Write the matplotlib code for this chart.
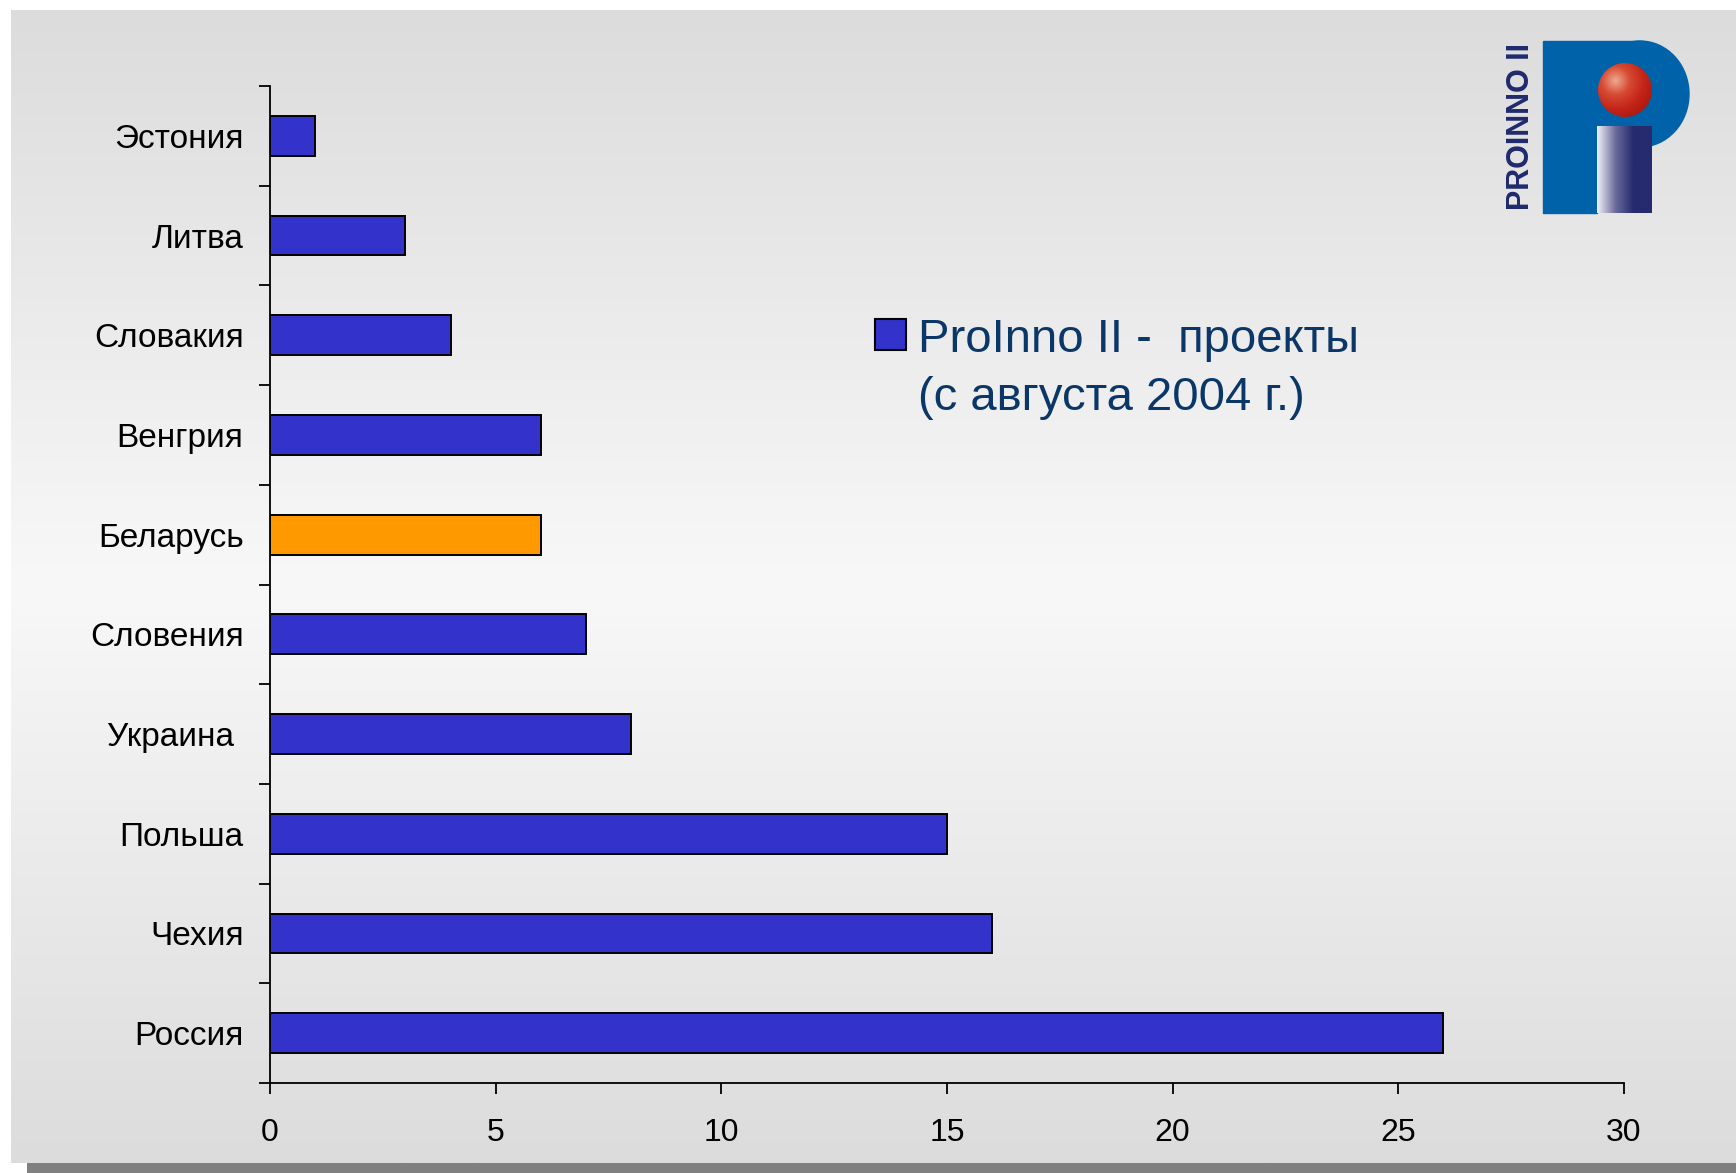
import numpy as np
import matplotlib
matplotlib.use("Agg")
import matplotlib.pyplot as plt
import matplotlib.patches as mpatches
from matplotlib.colors import LinearSegmentedColormap

plt.rcParams["font.family"] = ["Liberation Sans", "DejaVu Sans"]

# ── data ─────────────────────────────────────────────────────────────
countries = ["Россия", "Чехия", "Польша", "Украина ", "Словения",
             "Беларусь", "Венгрия", "Словакия", "Литва", "Эстония"]
projects = [26, 16, 15, 8, 7, 6, 6, 4, 3, 1]
highlight = "Беларусь"
legend_lines = ["ProInno II -  проекты", "(с августа 2004 г.)"]
xticks = [0, 5, 10, 15, 20, 25, 30]

W, H = 1736, 1173
fig = plt.figure(figsize=(W / 100, H / 100), dpi=100)
fig.patch.set_facecolor("white")

def px_axes(x0, y0, x1, y1, **kw):
    # axes placed by pixel box (top-left origin)
    return fig.add_axes([x0 / W, 1 - y1 / H, (x1 - x0) / W, (y1 - y0) / H], **kw)

# ── background panel with shadow + vertical gradient ───────────────
sh = px_axes(27, 1163, W, H)
sh.set_axis_off()
sh.add_patch(mpatches.Rectangle((0, 0), 1, 1, color="#808080", transform=sh.transAxes))

bg = px_axes(11, 10, W, 1163)
bg.set_axis_off()
t = np.linspace(0, 1, 400)
shade = 1 - np.abs(t - 0.5) * 2          # 0 at edges, 1 in middle
grad = np.tile(shade[:, None], (1, 2))
gcm = LinearSegmentedColormap.from_list("g", ["#dcdcdc", "#f8f8f8"])
bg.imshow(grad, aspect="auto", cmap=gcm, extent=[0, 1, 1, 0])
bg.set_xlim(0, 1)
bg.set_ylim(1, 0)

# ── main chart ──────────────────────────────────────────────────────
ax = px_axes(270, 86, 1624, 1083)
ax.patch.set_alpha(0)
y = np.arange(len(countries))
colors = ["#ff9900" if c == highlight else "#3333cc" for c in countries]
ax.barh(y, projects, height=0.4, color=colors, edgecolor="black", linewidth=1.4, zorder=3)

ax.set_xlim(0, 30)
ax.set_ylim(-0.5, len(countries) - 0.5)
ax.set_xticks(xticks)
ax.set_xticklabels([str(v) for v in xticks], fontsize=23)
ax.set_yticks(y)
ax.set_yticklabels(countries, fontsize=24)
ax.set_yticks(np.arange(-0.5, len(countries), 1), minor=True)
ax.tick_params(axis="y", which="major", length=0, pad=19)
ax.tick_params(axis="y", which="minor", length=8, width=1.3, direction="out")
ax.tick_params(axis="x", length=8, width=1.3, direction="out", pad=17)
for s in ["top", "right"]:
    ax.spines[s].set_visible(False)
for s in ["left", "bottom"]:
    ax.spines[s].set_linewidth(1.3)

# legend entry
fig.add_artist(mpatches.Rectangle((875 / W, 1 - 350 / H), 31 / W, 31 / H,
                                  facecolor="#3333cc", edgecolor="black",
                                  linewidth=1.5, transform=fig.transFigure))
for i, line in enumerate(legend_lines):
    fig.text(918 / W, 1 - (352 + 58 * i) / H, line, fontsize=34, color="#0b3768",
             ha="left", va="baseline")

# ── ProInno logo ────────────────────────────────────────────────────
lg = px_axes(1500, 30, 1710, 225)
lg.set_xlim(1500, 1710)
lg.set_ylim(225, 30)
lg.set_axis_off()
blue = "#0062a8"
lg.add_patch(mpatches.Rectangle((1543, 41), 54, 172, color=blue))
lg.add_patch(mpatches.Rectangle((1597, 41), 45, 106, color=blue))
lg.add_patch(mpatches.Ellipse((1640, 94), 98, 106, color=blue))
# i stem with gradient
stem = np.tile(np.linspace(0, 1, 100)[None, :], (2, 1))
scm = LinearSegmentedColormap.from_list("s", ["#f0f0f4", "#6a6c9c", "#262a6e", "#262a6e"])
lg.imshow(stem, cmap=scm, aspect="auto", extent=[1597, 1652, 213, 126], zorder=3)
# red sphere
yy, xx = np.mgrid[-1:1:200j, -1:1:200j]
r = np.sqrt((xx + 0.35) ** 2 + (yy + 0.35) ** 2)
rcm = LinearSegmentedColormap.from_list("r", ["#f0a890", "#d64a32", "#c42418", "#a8180e"])
im = lg.imshow(r, cmap=rcm, extent=[1598, 1652, 117, 63], zorder=4, vmin=0, vmax=1.6)
circ = mpatches.Circle((1625, 90), 27, transform=lg.transData)
im.set_clip_path(circ)
lg.text(1521, 127, "PROINNO II", rotation=90, fontsize=22, fontweight="bold",
        color="#1f2a6e", ha="center", va="center")
lg.set_xlim(1500, 1710)
lg.set_ylim(225, 30)

fig.savefig("out.png", dpi=100, facecolor="white")
